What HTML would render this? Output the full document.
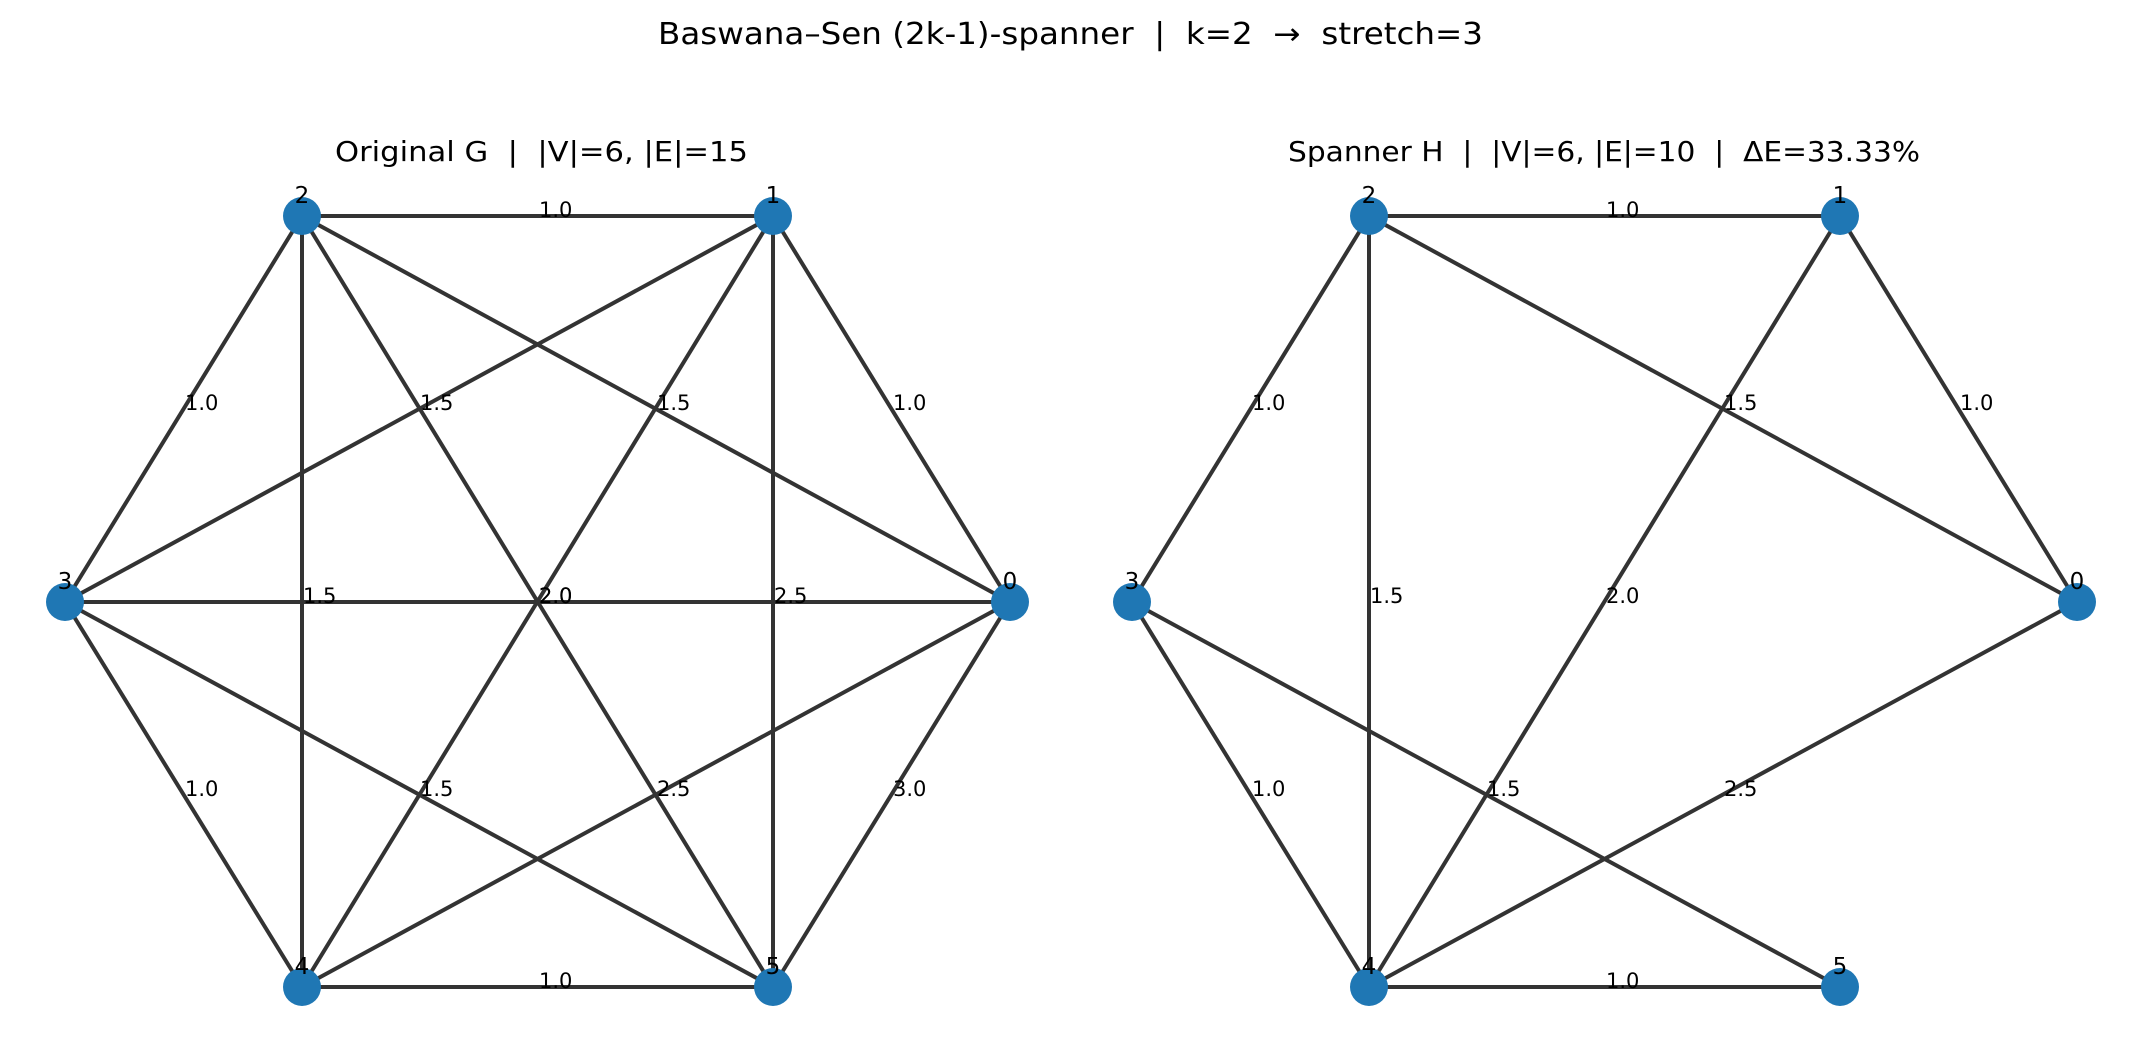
<!DOCTYPE html>
<html><head><meta charset="utf-8"><style>
html,body{margin:0;padding:0;background:#fff}
svg{display:block}
text{font-family:"DejaVu Sans","Liberation Sans",sans-serif;fill:#000;white-space:pre}
.e{stroke:#333;stroke-width:4;fill:none}
.n{fill:#1f77b4}
.el{font-size:21px}
.nl{font-size:23px;text-anchor:middle}
</style></head><body>
<svg width="2141" height="1045" viewBox="0 0 2141 1045" xmlns="http://www.w3.org/2000/svg" xml:space="preserve">
<text x="1070.5" y="44" font-size="30" text-anchor="middle" textLength="825" lengthAdjust="spacingAndGlyphs">Baswana–Sen (2k-1)-spanner  |  k=2  →  stretch=3</text>
<text x="541.5" y="161" font-size="28" text-anchor="middle" textLength="413" lengthAdjust="spacingAndGlyphs">Original G  |  |V|=6, |E|=15</text>
<text x="1604" y="161" font-size="28" text-anchor="middle" textLength="632" lengthAdjust="spacingAndGlyphs">Spanner H  |  |V|=6, |E|=10  |  ΔE=33.33%</text>

<g>
<line class="e" x1="302" y1="216" x2="773" y2="216"/>
<line class="e" x1="773" y1="216" x2="1010" y2="602"/>
<line class="e" x1="302" y1="216" x2="65" y2="602"/>
<line class="e" x1="65" y1="602" x2="302" y2="987"/>
<line class="e" x1="302" y1="987" x2="773" y2="987"/>
<line class="e" x1="773" y1="987" x2="1010" y2="602"/>
<line class="e" x1="65" y1="602" x2="773" y2="216"/>
<line class="e" x1="302" y1="216" x2="1010" y2="602"/>
<line class="e" x1="302" y1="216" x2="302" y2="987"/>
<line class="e" x1="65" y1="602" x2="1010" y2="602"/>
<line class="e" x1="302" y1="216" x2="773" y2="987"/>
<line class="e" x1="773" y1="216" x2="302" y2="987"/>
<line class="e" x1="773" y1="216" x2="773" y2="987"/>
<line class="e" x1="65" y1="602" x2="773" y2="987"/>
<line class="e" x1="302" y1="987" x2="1010" y2="602"/>
<g class="el">
<text x="539" y="217">1.0</text>
<text x="893" y="410">1.0</text>
<text x="185" y="410">1.0</text>
<text x="185" y="796">1.0</text>
<text x="539" y="988">1.0</text>
<text x="893" y="796">3.0</text>
<text x="420" y="410">1.5</text>
<text x="657" y="410">1.5</text>
<text x="303" y="603">1.5</text>
<text x="539" y="603">2.0</text>
<text x="539" y="603">2.0</text>
<text x="774" y="603">2.5</text>
<text x="420" y="796">1.5</text>
<text x="657" y="796">2.5</text>
</g>
<circle class="n" cx="1010" cy="602" r="19"/>
<circle class="n" cx="773" cy="216" r="19"/>
<circle class="n" cx="302" cy="216" r="19"/>
<circle class="n" cx="65" cy="602" r="19"/>
<circle class="n" cx="302" cy="987" r="19"/>
<circle class="n" cx="773" cy="987" r="19"/>
<g class="nl">
<text x="1010" y="589">0</text>
<text x="773" y="203">1</text>
<text x="302" y="203">2</text>
<text x="65" y="589">3</text>
<text x="302" y="974">4</text>
<text x="773" y="974">5</text>
</g>
</g>

<g transform="translate(1067,0)">
<line class="e" x1="302" y1="216" x2="773" y2="216"/>
<line class="e" x1="773" y1="216" x2="1010" y2="602"/>
<line class="e" x1="302" y1="216" x2="65" y2="602"/>
<line class="e" x1="302" y1="216" x2="1010" y2="602"/>
<line class="e" x1="302" y1="216" x2="302" y2="987"/>
<line class="e" x1="773" y1="216" x2="302" y2="987"/>
<line class="e" x1="65" y1="602" x2="302" y2="987"/>
<line class="e" x1="65" y1="602" x2="773" y2="987"/>
<line class="e" x1="302" y1="987" x2="1010" y2="602"/>
<line class="e" x1="302" y1="987" x2="773" y2="987"/>
<g class="el">
<text x="539" y="217">1.0</text>
<text x="893" y="410">1.0</text>
<text x="185" y="410">1.0</text>
<text x="657" y="410">1.5</text>
<text x="303" y="603">1.5</text>
<text x="539" y="603">2.0</text>
<text x="185" y="796">1.0</text>
<text x="420" y="796">1.5</text>
<text x="657" y="796">2.5</text>
<text x="539" y="988">1.0</text>
</g>
<circle class="n" cx="1010" cy="602" r="19"/>
<circle class="n" cx="773" cy="216" r="19"/>
<circle class="n" cx="302" cy="216" r="19"/>
<circle class="n" cx="65" cy="602" r="19"/>
<circle class="n" cx="302" cy="987" r="19"/>
<circle class="n" cx="773" cy="987" r="19"/>
<g class="nl">
<text x="1010" y="589">0</text>
<text x="773" y="203">1</text>
<text x="302" y="203">2</text>
<text x="65" y="589">3</text>
<text x="302" y="974">4</text>
<text x="773" y="974">5</text>
</g>
</g>
</svg>
</body></html>
